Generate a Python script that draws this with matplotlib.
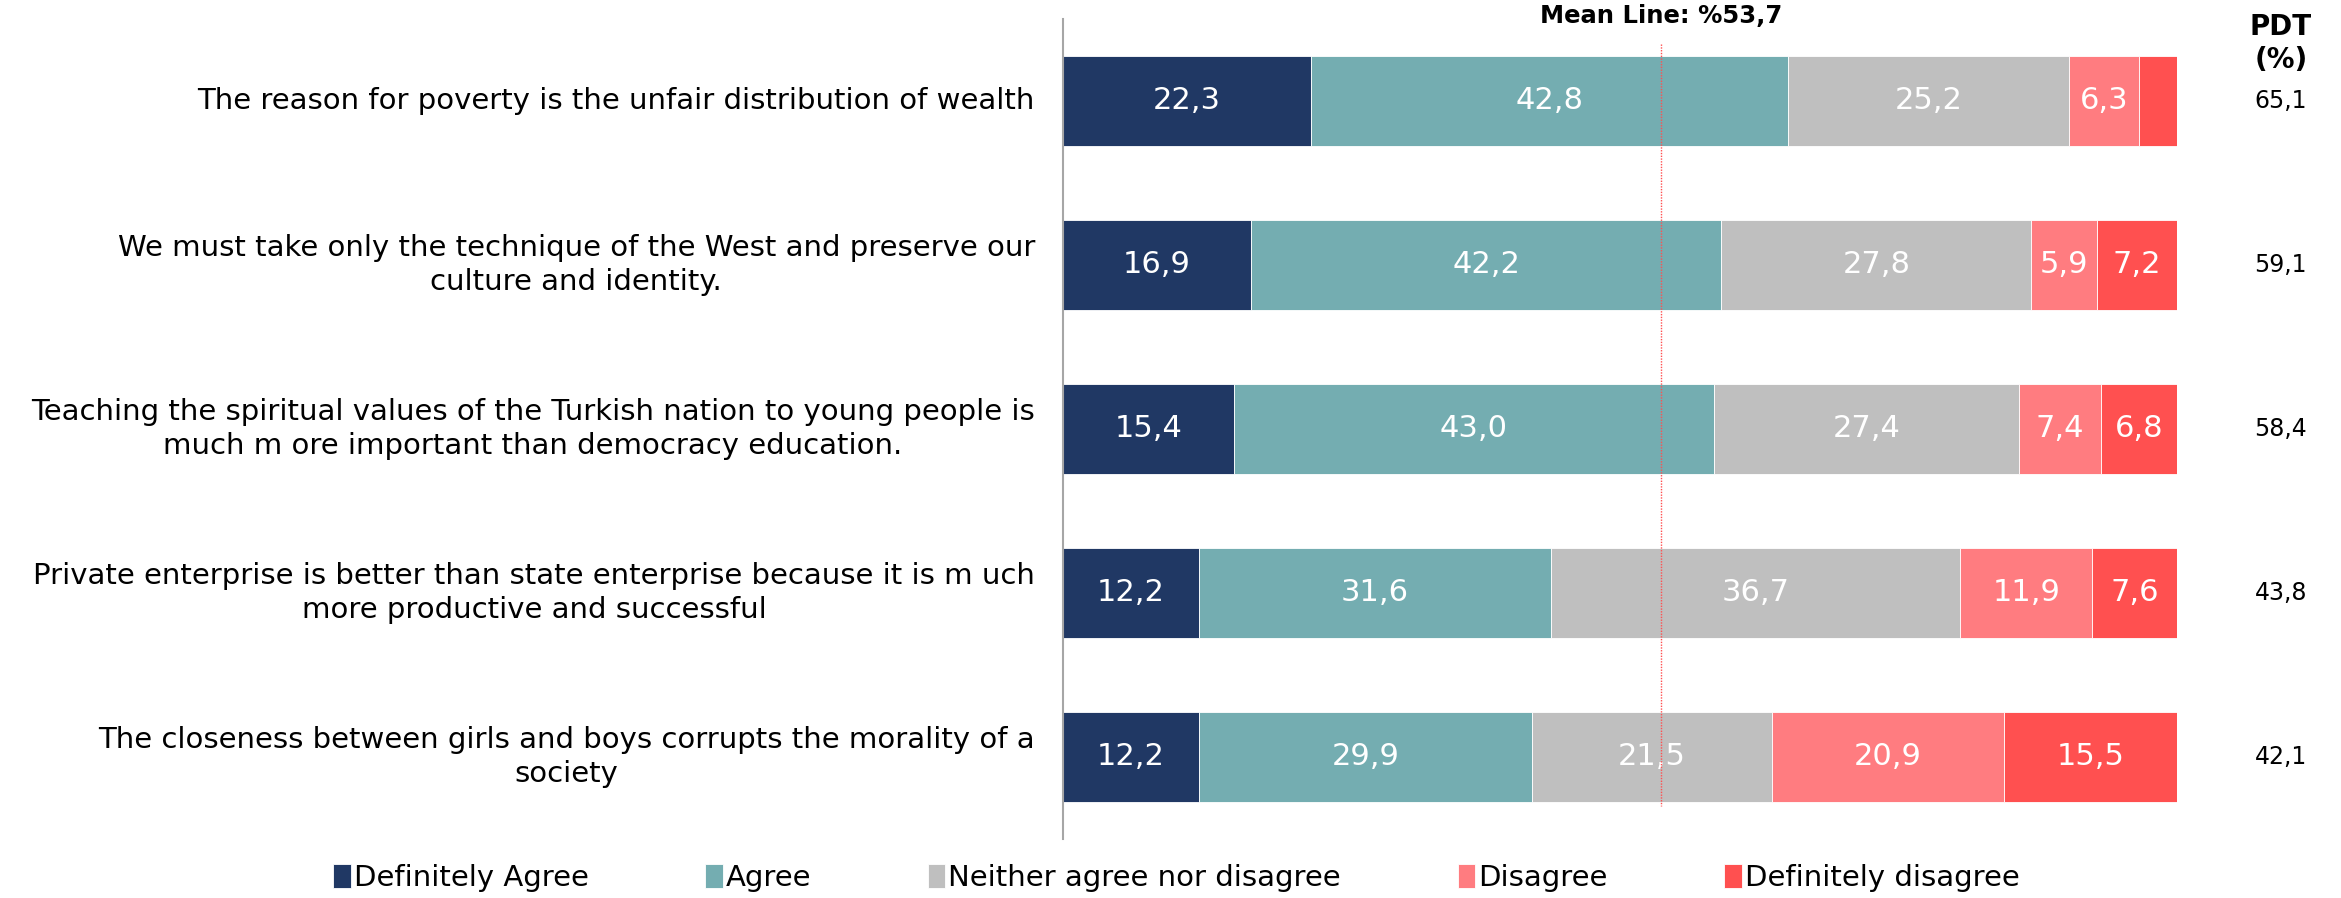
import matplotlib
matplotlib.use("Agg")
import matplotlib.pyplot as plt
import numpy as np

statements = [
    "The reason for poverty is the unfair distribution of wealth",
    "We must take only the technique of the West and preserve our\nculture and identity.",
    "Teaching the spiritual values of the Turkish nation to young people is\nmuch m ore important than democracy education.",
    "Private enterprise is better than state enterprise because it is m uch\nmore productive and successful",
    "The closeness between girls and boys corrupts the morality of a\nsociety",
]
categories = ["Definitely Agree", "Agree", "Neither agree nor disagree",
              "Disagree", "Definitely disagree"]
definitely_agree = [22.3, 16.9, 15.4, 12.2, 12.2]
agree = [42.8, 42.2, 43.0, 31.6, 29.9]
neither = [25.2, 27.8, 27.4, 36.7, 21.5]
disagree = [6.3, 5.9, 7.4, 11.9, 20.9]
definitely_disagree = [3.4, 7.2, 6.8, 7.6, 15.5]
pdt = [65.1, 59.1, 58.4, 43.8, 42.1]
mean_line = 53.7

colors = ["#203864", "#74ADB1", "#BFBFBF", "#FF7C80", "#FF5050"]
series = [definitely_agree, agree, neither, disagree, definitely_disagree]


def fmt(v):
    return f"{v:.1f}".replace(".", ",")


def main():
    fig = plt.figure(figsize=(23.41, 8.98), dpi=100)
    ax = fig.add_axes([0.454, 0.0657, 0.930 - 0.454, 0.979 - 0.0657])
    y = np.arange(len(statements))
    left = np.zeros(len(statements))
    for vals, col, name in zip(series, colors, categories):
        vals = np.array(vals)
        ax.barh(y, vals, left=left, height=0.55, color=col, label=name,
                edgecolor="white", linewidth=0.6)
        for yi, (l, v) in enumerate(zip(left, vals)):
            if v >= 5:
                ax.text(l + v / 2, yi, fmt(v), ha="center", va="center",
                        color="white", fontsize=22)
        left += vals

    ax.set_xlim(0, 100)
    ax.set_ylim(4.5, -0.5)
    ax.set_xticks([])
    ax.set_yticks([])
    for s in ["top", "right", "bottom"]:
        ax.spines[s].set_visible(False)
    ax.spines["left"].set_color("#A6A6A6")
    ax.spines["left"].set_linewidth(1.5)

    for yi, label in enumerate(statements):
        ax.text(-0.025, yi, label, transform=ax.get_yaxis_transform(),
                ha="right", va="center", multialignment="center", fontsize=21,
                linespacing=1.25)

    for yi, v in enumerate(pdt):
        ax.text(1.093, yi, fmt(v), transform=ax.get_yaxis_transform(),
                ha="center", va="center", fontsize=17)
    ax.text(1.093, -0.35, "PDT\n(%)", transform=ax.get_yaxis_transform(),
            ha="center", va="center", fontsize=20, fontweight="bold",
            linespacing=1.2)

    ax.plot([mean_line, mean_line], [-0.345, 4.3], color="#FF5050",
            linestyle=(0, (1, 1)), linewidth=1, zorder=5)
    ax.text(mean_line, -0.52, "Mean Line: %53,7", ha="center", va="center",
            fontsize=17.5, fontweight="bold", clip_on=False)

    ax.legend(loc="center", bbox_to_anchor=(0.5025, 0.022),
              bbox_transform=fig.transFigure, ncol=5, frameon=False,
              fontsize=21, handlelength=0.6, handleheight=0.9,
              handletextpad=0.1, columnspacing=4.0)

    fig.savefig("out.png", dpi=100)


if __name__ == "__main__":
    main()
